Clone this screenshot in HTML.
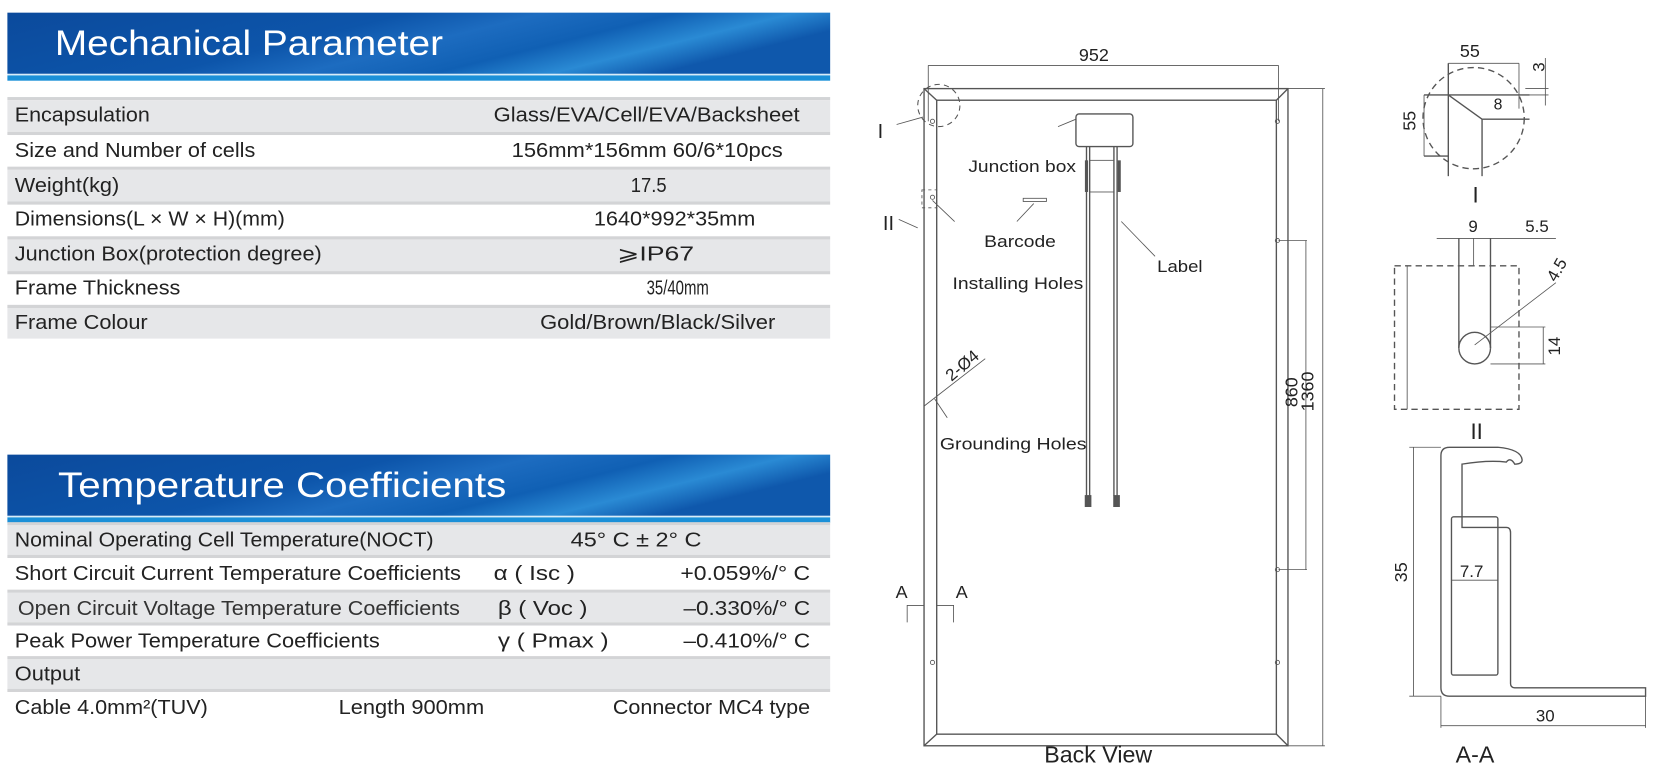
<!DOCTYPE html>
<html><head><meta charset="utf-8"><style>
body{margin:0;width:1654px;height:779px;background:#fff;overflow:hidden}
svg{position:absolute;left:0;top:0}
svg text{font-family:"Liberation Sans",sans-serif;fill:#222}
</style></head><body>
<svg width="1654" height="779" viewBox="0 0 1568 738.5" preserveAspectRatio="none">
<defs>
<linearGradient id="bg" x1="0" y1="0" x2="1" y2="0.3">
<stop offset="0" stop-color="#0b4a9c"/><stop offset="0.45" stop-color="#0d55aa"/><stop offset="0.6" stop-color="#1d6cc0"/><stop offset="0.75" stop-color="#1060b4"/><stop offset="0.88" stop-color="#2a8ad4"/><stop offset="1" stop-color="#0f58ac"/>
</linearGradient>
</defs>
<g>
<rect x="7" y="12" width="780" height="58" fill="url(#bg)"/><rect x="7" y="70" width="780" height="1.5" fill="#d8ecf8"/><rect x="7" y="71.5" width="780" height="5" fill="#1b90d8"/>
<text x="52" y="52" font-size="33" style="fill:#fff" textLength="368" lengthAdjust="spacingAndGlyphs">Mechanical Parameter</text>
<rect x="7" y="431" width="780" height="58" fill="url(#bg)"/><rect x="7" y="489" width="780" height="1.5" fill="#d8ecf8"/><rect x="7" y="490.5" width="780" height="5" fill="#1b90d8"/>
<text x="55" y="471" font-size="33" style="fill:#fff" textLength="425" lengthAdjust="spacingAndGlyphs">Temperature Coefficients</text>
</g>
<g>
<rect x="7" y="92" width="780" height="3" fill="#d3d4d6"/><rect x="7" y="95" width="780" height="30" fill="#e6e7e9"/>
<rect x="7" y="125" width="780" height="3" fill="#d3d4d6"/>
<rect x="7" y="158" width="780" height="3" fill="#d3d4d6"/><rect x="7" y="161" width="780" height="30" fill="#e6e7e9"/>
<rect x="7" y="191" width="780" height="3" fill="#d3d4d6"/>
<rect x="7" y="224" width="780" height="3" fill="#d3d4d6"/><rect x="7" y="227" width="780" height="30" fill="#e6e7e9"/>
<rect x="7" y="257" width="780" height="3" fill="#d3d4d6"/>
<rect x="7" y="289" width="780" height="3" fill="#d3d4d6"/><rect x="7" y="292" width="780" height="29" fill="#e6e7e9"/>
<rect x="7" y="495" width="780" height="3" fill="#d3d4d6"/><rect x="7" y="498" width="780" height="28" fill="#e6e7e9"/>
<rect x="7" y="526" width="780" height="3" fill="#d3d4d6"/>
<rect x="7" y="559" width="780" height="3" fill="#d3d4d6"/><rect x="7" y="562" width="780" height="28" fill="#e6e7e9"/>
<rect x="7" y="590" width="780" height="3" fill="#d3d4d6"/>
<rect x="7" y="622" width="780" height="3" fill="#d3d4d6"/><rect x="7" y="625" width="780" height="28" fill="#e6e7e9"/>
<rect x="7" y="653" width="780" height="3" fill="#d3d4d6"/>
</g>
<g font-size="19">
<text x="14" y="115" textLength="128" lengthAdjust="spacingAndGlyphs">Encapsulation</text>
<text x="468" y="115" textLength="290" lengthAdjust="spacingAndGlyphs">Glass/EVA/Cell/EVA/Backsheet</text>
<text x="14" y="149" textLength="228" lengthAdjust="spacingAndGlyphs">Size and Number of cells</text>
<text x="485" y="149" textLength="257" lengthAdjust="spacingAndGlyphs">156mm*156mm 60/6*10pcs</text>
<text x="14" y="182" textLength="99" lengthAdjust="spacingAndGlyphs">Weight(kg)</text>
<text x="598" y="182" textLength="34" lengthAdjust="spacingAndGlyphs">17.5</text>
<text x="14" y="214" textLength="256" lengthAdjust="spacingAndGlyphs">Dimensions(L × W × H)(mm)</text>
<text x="563" y="214" textLength="153" lengthAdjust="spacingAndGlyphs">1640*992*35mm</text>
<text x="14" y="247" textLength="291" lengthAdjust="spacingAndGlyphs">Junction Box(protection degree)</text>
<text x="585" y="247" textLength="73" lengthAdjust="spacingAndGlyphs">⩾IP67</text>
<text x="14" y="279" textLength="157" lengthAdjust="spacingAndGlyphs">Frame Thickness</text>
<text x="613" y="279" textLength="59" lengthAdjust="spacingAndGlyphs">35/40mm</text>
<text x="14" y="312" textLength="126" lengthAdjust="spacingAndGlyphs">Frame Colour</text>
<text x="512" y="312" textLength="223" lengthAdjust="spacingAndGlyphs">Gold/Brown/Black/Silver</text>
<text x="14" y="518" textLength="397" lengthAdjust="spacingAndGlyphs">Nominal Operating Cell Temperature(NOCT)</text>
<text x="541" y="518" textLength="124" lengthAdjust="spacingAndGlyphs">45°  C ± 2°  C</text>
<text x="14" y="550" textLength="423" lengthAdjust="spacingAndGlyphs">Short Circuit Current Temperature Coefficients</text>
<text x="468" y="550" textLength="77" lengthAdjust="spacingAndGlyphs">α  ( Isc )</text>
<text x="645" y="550" textLength="123" lengthAdjust="spacingAndGlyphs">+0.059%/°  C</text>
<text x="17" y="583" textLength="419" lengthAdjust="spacingAndGlyphs" style="fill:#333">Open Circuit Voltage Temperature Coefficients</text>
<text x="472" y="583" textLength="85" lengthAdjust="spacingAndGlyphs">β  ( Voc )</text>
<text x="648" y="583" textLength="120" lengthAdjust="spacingAndGlyphs">–0.330%/°  C</text>
<text x="14" y="614" textLength="346" lengthAdjust="spacingAndGlyphs">Peak Power Temperature Coefficients</text>
<text x="472" y="614" textLength="105" lengthAdjust="spacingAndGlyphs">γ  ( Pmax )</text>
<text x="648" y="614" textLength="120" lengthAdjust="spacingAndGlyphs">–0.410%/°  C</text>
<text x="14" y="645" textLength="62" lengthAdjust="spacingAndGlyphs">Output</text>
<text x="14" y="677" textLength="183" lengthAdjust="spacingAndGlyphs">Cable 4.0mm²(TUV)</text>
<text x="321" y="677" textLength="138" lengthAdjust="spacingAndGlyphs">Length 900mm</text>
<text x="581" y="677" textLength="187" lengthAdjust="spacingAndGlyphs">Connector MC4 type</text>
</g>

<g fill="none" stroke="#555" stroke-width="1.3">
<rect x="876" y="84" width="345" height="623"/>
<rect x="888" y="95" width="322" height="601"/>
<line x1="876" y1="84" x2="888" y2="95"/><line x1="1221" y1="84" x2="1210" y2="95"/>
<line x1="876" y1="707" x2="888" y2="696"/><line x1="1221" y1="707" x2="1210" y2="696"/>
<line x1="880" y1="62" x2="1212" y2="62" stroke-width="0.8"/>
<line x1="880" y1="62" x2="880" y2="115" stroke-width="0.8"/>
<line x1="1212" y1="62" x2="1212" y2="115" stroke-width="0.8"/>
<line x1="1221" y1="84" x2="1256" y2="84" stroke-width="0.8"/>
<line x1="1221" y1="707" x2="1256" y2="707" stroke-width="0.8"/>
<line x1="1254" y1="84" x2="1254" y2="707" stroke-width="0.8"/>
<line x1="1212" y1="228" x2="1239" y2="228" stroke-width="0.8"/>
<line x1="1212" y1="540" x2="1239" y2="540" stroke-width="0.8"/>
<line x1="1238" y1="228" x2="1238" y2="540" stroke-width="0.8"/>
<circle cx="1211" cy="228" r="2" stroke-width="0.8"/><circle cx="1211" cy="540" r="2" stroke-width="0.8"/>
<circle cx="884" cy="115" r="2" stroke-width="0.8"/><circle cx="884" cy="187" r="2" stroke-width="0.8"/><circle cx="884" cy="628" r="2" stroke-width="0.8"/><circle cx="1211" cy="115" r="2" stroke-width="0.8"/><circle cx="1211" cy="628" r="2" stroke-width="0.8"/>
<circle cx="890" cy="100" r="20" stroke-dasharray="5 4" stroke-width="1"/>
<rect x="874" y="180" width="14" height="17" stroke-dasharray="3 3" stroke-width="0.8"/>
<line x1="850" y1="118" x2="875" y2="111" stroke-width="0.8"/>
<line x1="852" y1="208" x2="870" y2="216" stroke-width="0.8"/>
<line x1="884" y1="190" x2="905" y2="210" stroke-width="0.8"/>
<rect x="1020" y="108" width="54" height="31" rx="3"/>
<line x1="1030" y1="139" x2="1030" y2="470"/><line x1="1033" y1="139" x2="1033" y2="470"/>
<line x1="1056" y1="139" x2="1056" y2="470"/><line x1="1059" y1="139" x2="1059" y2="470"/>
<rect x="1033" y="152" width="23" height="30" stroke-width="0.8"/>
<line x1="1030" y1="152" x2="1030" y2="182" stroke-width="3"/><line x1="1061" y1="152" x2="1061" y2="182" stroke-width="3"/>
<rect x="1029" y="470" width="5" height="10" fill="#555"/><rect x="1056" y="470" width="5" height="10" fill="#555"/>
<line x1="1003" y1="120" x2="1020" y2="113" stroke-width="0.8"/>
<rect x="970" y="188" width="22" height="3" stroke-width="0.8"/>
<line x1="980" y1="193" x2="964" y2="210" stroke-width="0.8"/>
<line x1="1063" y1="210" x2="1095" y2="243" stroke-width="0.8"/>
<line x1="876" y1="385" x2="934" y2="340" stroke-width="0.8"/>
<line x1="886" y1="378" x2="898" y2="396" stroke-width="0.8"/>
<polyline points="860,590 860,574 876,574" stroke-width="0.8"/><polyline points="888,574 904,574 904,590" stroke-width="0.8"/>
<circle cx="1397" cy="112" r="48" stroke-dasharray="6 4"/>
<line x1="1373" y1="60" x2="1440" y2="60" stroke-width="0.8"/>
<line x1="1373" y1="60" x2="1373" y2="167"/>
<line x1="1350" y1="90" x2="1373" y2="90"/><line x1="1350" y1="148" x2="1373" y2="148"/>
<line x1="1350" y1="90" x2="1350" y2="148" stroke-width="0.8"/>
<line x1="1373" y1="90" x2="1450" y2="90"/>
<line x1="1373" y1="90" x2="1405" y2="113"/>
<line x1="1405" y1="113" x2="1450" y2="113"/>
<line x1="1405" y1="113" x2="1405" y2="167"/>
<line x1="1440" y1="60" x2="1440" y2="103" stroke-width="0.8"/>
<line x1="1446" y1="84" x2="1468" y2="84" stroke-width="0.8"/><line x1="1446" y1="90" x2="1468" y2="90" stroke-width="0.8"/>
<line x1="1465" y1="55" x2="1465" y2="100" stroke-width="0.8"/>
<rect x="1322" y="252" width="118" height="136" stroke-dasharray="6 4"/>
<line x1="1334" y1="252" x2="1334" y2="388" stroke-width="0.8"/>
<line x1="1383" y1="226" x2="1383" y2="330"/><line x1="1413" y1="226" x2="1413" y2="330"/>
<path d="M1383 330 A15 15 0 0 0 1413 330"/><path d="M1383 330 A15 15 0 0 1 1413 330"/>
<line x1="1397" y1="226" x2="1397" y2="252" stroke-width="0.8"/>
<line x1="1362" y1="226" x2="1475" y2="226" stroke-width="0.8"/>
<line x1="1398" y1="327" x2="1475" y2="268" stroke-width="0.8"/>
<line x1="1413" y1="310" x2="1465" y2="310" stroke-width="0.8"/><line x1="1413" y1="345" x2="1465" y2="345" stroke-width="0.8"/>
<line x1="1463" y1="310" x2="1463" y2="345" stroke-width="0.8"/>
<path d="M1366 432 Q1366 424 1374 424 L1420 424 Q1442 426 1443 436 Q1443 440 1436 440 Q1432 433 1428 438 Q1410 436 1386 440 L1386 500 L1428 500 Q1432 500 1432 505 L1432 648 Q1432 652 1436 652 L1560 652 L1560 660 L1374 660 Q1366 660 1366 652 Z"/>
<rect x="1376" y="490" width="44" height="150" rx="2"/>
<line x1="1376" y1="550" x2="1420" y2="550" stroke-width="0.8"/>
<line x1="1336" y1="424" x2="1366" y2="424" stroke-width="0.8"/><line x1="1336" y1="660" x2="1366" y2="660" stroke-width="0.8"/>
<line x1="1340" y1="424" x2="1340" y2="660" stroke-width="0.8"/>
<line x1="1366" y1="660" x2="1366" y2="690" stroke-width="0.8"/><line x1="1560" y1="660" x2="1560" y2="690" stroke-width="0.8"/>
<line x1="1366" y1="688" x2="1560" y2="688" stroke-width="0.8"/>
</g>
<g font-size="16">
<text x="1037" y="58" text-anchor="middle" font-size="17">952</text>
<text x="918" y="163" textLength="102" lengthAdjust="spacingAndGlyphs">Junction box</text>
<text x="933" y="234" textLength="68" lengthAdjust="spacingAndGlyphs">Barcode</text>
<text x="1097" y="258" textLength="43" lengthAdjust="spacingAndGlyphs">Label</text>
<text x="903" y="274" textLength="124" lengthAdjust="spacingAndGlyphs">Installing Holes</text>
<text x="891" y="426" textLength="139" lengthAdjust="spacingAndGlyphs">Grounding Holes</text>
<text transform="translate(902,362) rotate(-40)">2-Ø4</text>
<text font-size="17" transform="translate(1245,390) rotate(-90)">1360</text>
<text font-size="17" transform="translate(1230,386) rotate(-90)">860</text>
<text x="832" y="131" font-family="Liberation Serif" font-size="19">I</text>
<text x="837" y="218" font-family="Liberation Serif" font-size="19">II</text>
<text x="849" y="567" font-size="17">A</text><text x="906" y="567" font-size="17">A</text>
<text x="990" y="723" font-size="22">Back View</text>
<text x="1380" y="723" font-size="22">A-A</text>
<text x="1384" y="54" font-size="17">55</text>
<text x="1416" y="104" font-size="15">8</text>
<text transform="translate(1464,68) rotate(-90)">3</text>
<text font-size="17" transform="translate(1342,124) rotate(-90)">55</text>
<text x="1396" y="192" font-family="Liberation Serif" font-size="21">I</text>
<text x="1392" y="220">9</text><text x="1446" y="220">5.5</text>
<text transform="translate(1475,268) rotate(-60)">4.5</text>
<text transform="translate(1479,337) rotate(-90)">14</text>
<text x="1394" y="416" font-family="Liberation Serif" font-size="21">II</text>
<text font-size="17" transform="translate(1334,552) rotate(-90)">35</text>
<text x="1384" y="547">7.7</text>
<text x="1456" y="684">30</text>
</g>
</svg>
</body></html>
